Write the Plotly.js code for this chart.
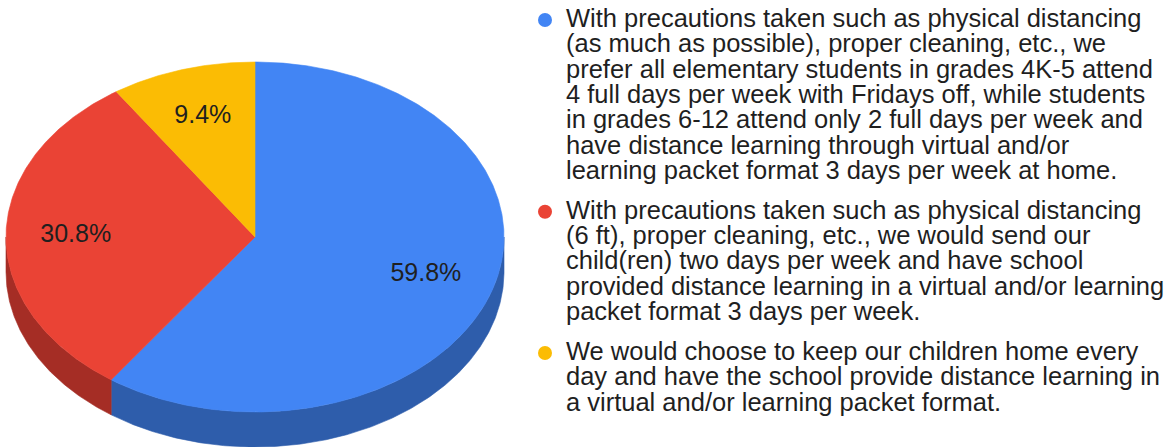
<!DOCTYPE html>
<html>
<head>
<meta charset="utf-8">
<script src="https://cdn.plot.ly/plotly-3.0.1.min.js"></script>
<style>html,body{margin:0;padding:0;background:#fff;}#chart{width:1175px;height:447px;}</style>
</head>
<body>
<div id="chart"></div>
<script>
// ---- data ----
const legendLines = [
  ["With precautions taken such as physical distancing",
   "(as much as possible), proper cleaning, etc., we",
   "prefer all elementary students in grades 4K-5 attend",
   "4 full days per week with Fridays off, while students",
   "in grades 6-12 attend only 2 full days per week and",
   "have distance learning through virtual and/or",
   "learning packet format 3 days per week at home."],
  ["With precautions taken such as physical distancing",
   "(6 ft), proper cleaning, etc., we would send our",
   "child(ren) two days per week and have school",
   "provided distance learning in a virtual and/or learning",
   "packet format 3 days per week."],
  ["We would choose to keep our children home every",
   "day and have the school provide distance learning in",
   "a virtual and/or learning packet format."]
];
const categories = legendLines.map(l => l.join(' '));
const values = [59.8, 30.8, 9.4];
const sliceLabels = ["59.8%", "30.8%", "9.4%"];
const topColors = ["#4285F4", "#EA4335", "#FBBC04"];
const sideColors = ["#2E5DAB", "#A52D25", "#B08503"];

// ---- geometry (layout only) ----
const W = 1175, H = 447;
const cx = 255, cy = 237, rx = 249, ry = 175, depth = 35;
const labelR = 0.72;
const FONT = '"Liberation Sans", Arial, sans-serif';

const total = values.reduce((a, b) => a + b, 0);
function pt(frac, dy) {
  const th = 2 * Math.PI * frac;
  return [cx + rx * Math.sin(th), cy - ry * Math.cos(th) + (dy || 0)];
}
function arc(f0, f1, dy) {
  const n = Math.max(2, Math.ceil((f1 - f0) * 720));
  const xs = [], ys = [];
  for (let k = 0; k <= n; k++) {
    const p = pt(f0 + (f1 - f0) * k / n, dy);
    xs.push(p[0]); ys.push(p[1]);
  }
  return [xs, ys];
}

const starts = [];
let acc = 0;
values.forEach(v => { starts.push(acc / total); acc += v; });

const traces = [];
// side walls (visible front half: fraction 0.25..0.75)
values.forEach((v, i) => {
  const f0 = Math.max(starts[i], 0.25);
  const f1 = Math.min(starts[i] + v / total, 0.75);
  if (f1 <= f0) return;
  const top = arc(f0, f1, 0);
  const bot = arc(f0, f1, depth);
  const xs = top[0].concat(bot[0].slice().reverse());
  const ys = top[1].concat(bot[1].slice().reverse());
  xs.push(xs[0]); ys.push(ys[0]);
  traces.push({type: 'scatter', mode: 'lines', x: xs, y: ys, fill: 'toself',
    fillcolor: sideColors[i], line: {color: sideColors[i], width: 0.6},
    hoverinfo: 'skip', showlegend: false});
});
// top faces
values.forEach((v, i) => {
  const a = arc(starts[i], starts[i] + v / total, 0);
  const xs = [cx].concat(a[0], [cx]);
  const ys = [cy].concat(a[1], [cy]);
  traces.push({type: 'scatter', mode: 'lines', x: xs, y: ys, fill: 'toself',
    fillcolor: topColors[i], line: {color: topColors[i], width: 0.6},
    name: categories[i], text: sliceLabels[i], hoverinfo: 'text+name', showlegend: false});
});
// slice labels
const lx = [], ly = [];
values.forEach((v, i) => {
  const th = 2 * Math.PI * (starts[i] + v / total / 2);
  lx.push(cx + rx * labelR * Math.sin(th));
  ly.push(cy - ry * labelR * Math.cos(th));
});
traces.push({type: 'scatter', mode: 'text', x: lx, y: ly, text: sliceLabels,
  textposition: 'middle center', textfont: {family: FONT, size: 25, color: '#1f1f1f'},
  hoverinfo: 'skip', showlegend: false});

// legend (text lines + bullets)
const annotations = [], shapes = [];
const legX = 564, bulletX = 545, bulletR = 7;
const firstY = 18, pitch = 25.3, gap = 40;
let y = firstY;
legendLines.forEach((lines, i) => {
  shapes.push({type: 'circle', xref: 'x', yref: 'y',
    x0: bulletX - bulletR, x1: bulletX + bulletR, y0: y + 2 - bulletR, y1: y + 2 + bulletR,
    fillcolor: topColors[i], line: {width: 0}});
  lines.forEach((t, j) => {
    annotations.push({xref: 'x', yref: 'y', x: legX, y: y, text: t, showarrow: false,
      xanchor: 'left', yanchor: 'middle', font: {family: FONT, size: 25.5, color: '#1f1f1f'}});
    if (j < lines.length - 1) y += pitch;
  });
  y += gap;
});

const layout = {
  width: W, height: H,
  margin: {l: 0, r: 0, t: 0, b: 0, pad: 0},
  paper_bgcolor: '#ffffff', plot_bgcolor: '#ffffff',
  xaxis: {range: [0, W], visible: false, fixedrange: true},
  yaxis: {range: [H, 0], visible: false, fixedrange: true},
  showlegend: false,
  annotations: annotations,
  shapes: shapes
};
Plotly.newPlot('chart', traces, layout, {displayModeBar: false, staticPlot: true});
</script>
</body>
</html>
